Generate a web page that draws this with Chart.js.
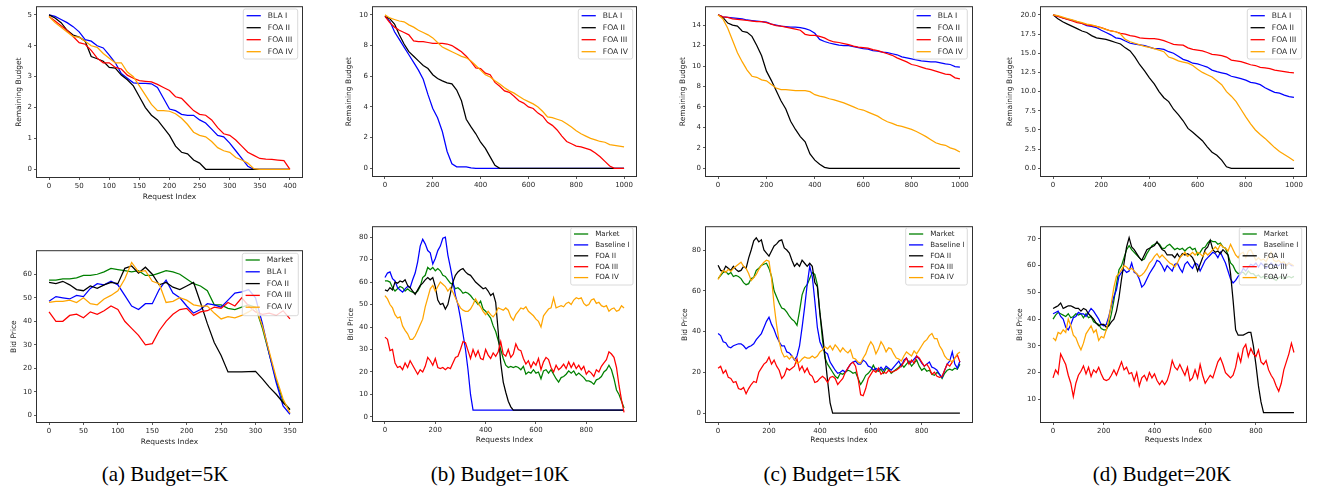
<!DOCTYPE html>
<html>
<head>
<meta charset="utf-8">
<script src="https://cdn.jsdelivr.net/npm/chart.js@4.4.1/dist/chart.umd.min.js"></script>
<style>
  body { margin: 0; background: #fff; width: 1330px; height: 491px; position: relative; overflow: hidden; }
  canvas { position: absolute; }
  .cap { position: absolute; top: 464px; font-size: 21px; line-height: 21px; font-family: "Liberation Serif", "Times New Roman", serif; color: #000; white-space: nowrap; transform: translateX(-50%); }
</style>
</head>
<body>
<div class="cap" style="left:165px">(a) Budget=5K</div>
<div class="cap" style="left:500px">(b) Budget=10K</div>
<div class="cap" style="left:832px">(c) Budget=15K</div>
<div class="cap" style="left:1162px">(d) Budget=20K</div>
<script>
// series names
const remNames = ['BLA I', 'FOA II', 'FOA III', 'FOA IV'];
const bidNamesA = ['Market', 'BLA I', 'FOA II', 'FOA III', 'FOA IV'];
const bidNames = ['Market', 'Baseline I', 'FOA II', 'FOA III', 'FOA IV'];

// tick labels
const ticksRemAX = [0, 50, 100, 150, 200, 250, 300, 350, 400];
const ticksRemAY = [0, 1, 2, 3, 4, 5];
const ticksRemX = [0, 200, 400, 600, 800, 1000];
const ticksRemBY = [0, 2, 4, 6, 8, 10];
const ticksRemCY = [0, 2, 4, 6, 8, 10, 12, 14];
const ticksRemDY = [0, 2.5, 5, 7.5, 10, 12.5, 15, 17.5, 20];
const ticksBidAX = [0, 50, 100, 150, 200, 250, 300, 350];
const ticksBidAY = [0, 10, 20, 30, 40, 50, 60];
const ticksBidX = [0, 200, 400, 600, 800];
const ticksBidBY = [0, 10, 20, 30, 40, 50, 60, 70, 80];
const ticksBidCY = [0, 20, 40, 60, 80];
const ticksBidDY = [10, 20, 30, 40, 50, 60, 70];

// remaining budget, 5K (every 10 requests)
const remA_bla = [5.0,4.95,4.85,4.75,4.62,4.45,4.2,4.15,4.0,3.93, 3.7,3.45,3.1,2.95,2.8,2.78,2.78,2.77,2.65,2.3, 1.95,1.9,1.78,1.75,1.75,1.6,1.5,1.3,1.1,1.05, 0.85,0.6,0.35,0.1,0,0,0,0,0,0,0];
const remA_foa2 = [5.0,4.9,4.75,4.5,4.35,4.28,4.15,3.65,3.58,3.5, 3.3,3.28,3.05,2.9,2.7,2.35,2.0,1.75,1.6,1.35, 1.1,0.75,0.55,0.5,0.3,0.2, 0,0,0,0,0,0,0,0,0,0,0,0,0,0,0];
const remA_foa3 = [4.95,4.8,4.65,4.5,4.3,4.1,4.05,3.85,3.6,3.45, 3.45,3.3,3.25,3.05,2.95,2.87,2.85,2.83,2.75,2.65, 2.55,2.35,2.3,2.1,1.9,1.78,1.75,1.6,1.35,1.15, 1.1,0.95,0.75,0.55,0.45,0.35,0.33,0.32,0.3,0.28,0];
const remA_foa4 = [4.95,4.75,4.6,4.45,4.3,4.28,4.15,4.0,3.95,3.75, 3.6,3.45,3.45,3.15,3.0,2.7,2.4,2.1,1.9,1.9, 1.88,1.8,1.65,1.45,1.2,1.1,1.05,0.9,0.7,0.6, 0.55,0.38,0.3,0.2,0.02,0,0,0,0,0,0];

// remaining budget, 10K (every 20 requests)
const remB_bla = [9.9,9.6,8.9,8.4,7.9,7.4,6.9,6.4,5.8,4.8, 3.9,3.3,2.4,1.1,0.3,0.1,0.1,0.1,0.03, 0,0,0,0,0,0,0,0,0,0,0,0,0,0,0,0,0,0,0,0,0,0,0,0,0,0,0,0,0,0,0,0];
const remB_foa2 = [9.9,9.75,9.4,8.7,8.1,7.6,7.3,7.0,6.7,6.5, 6.1,5.85,5.7,5.57,5.5,5.1,4.4,3.2,2.7,2.25, 1.7,1.3,0.75,0.2, 0,0,0,0,0,0,0,0,0,0,0,0,0,0,0,0,0,0,0,0,0,0,0,0,0,0,0];
const remB_foa3 = [9.9,9.5,9.2,9.0,8.85,8.7,8.3,8.25,8.25,8.2, 8.15,8.15,8.15,8.1,8.0,7.8,7.6,7.3,6.95,6.55, 6.5,6.2,6.1,5.6,5.35,5.05,4.95,4.7,4.4,4.25, 4.0,3.9,3.6,3.4,3.0,2.8,2.5,2.1,1.75,1.6, 1.45,1.4,1.3,1.2,1.0,0.75,0.45,0.15,0,0,0];
const remB_foa4 = [10.0,9.8,9.7,9.6,9.55,9.35,9.2,9.0,8.85,8.7, 8.5,8.2,7.9,7.75,7.6,7.45,7.3,7.2,7.0,6.7, 6.4,6.1,5.95,5.7,5.5,5.25,5.05,4.9,4.7,4.5, 4.35,4.2,4.0,3.7,3.35,3.3,3.2,3.1,2.9,2.7, 2.45,2.25,2.1,1.95,1.85,1.75,1.7,1.55,1.5,1.45,1.4];

// remaining budget, 15K (every 20 requests)
const remC_bla = [15,14.8,14.75,14.7,14.65,14.6,14.5,14.45,14.4,14.35, 14.3,14.1,14.0,13.9,13.85,13.8,13.8,13.75,13.65,13.5, 13.2,12.6,12.4,12.25,12.15,12.05,12.0,12.0,11.9,11.8, 11.7,11.65,11.5,11.45,11.35,11.3,11.2,11.1,10.9,10.8, 10.7,10.6,10.5,10.45,10.4,10.4,10.3,10.2,10.15,9.95,9.9];
const remC_foa2 = [15,14.75,14.2,14.0,13.9,13.4,13.3,12.9,12.0,11.0, 9.5,8.6,7.6,6.6,5.8,4.6,3.8,3.1,2.6,1.4, 0.8,0.4,0.1, 0,0,0,0,0,0,0,0,0,0,0,0,0,0,0,0,0,0,0,0,0,0,0,0,0,0,0,0];
const remC_foa3 = [15,14.8,14.75,14.6,14.55,14.5,14.45,14.4,14.35,14.35, 14.25,14.1,13.95,13.9,13.8,13.7,13.6,13.5,13.1,13.0, 13.0,12.9,12.75,12.5,12.35,12.3,12.2,12.1,11.95,11.85, 11.8,11.75,11.6,11.5,11.35,11.2,11.05,10.8,10.6,10.4, 10.15,10.05,9.9,9.75,9.65,9.5,9.35,9.2,9.15,8.85,8.75];
const remC_foa4 = [15,14.6,13.7,12.5,11.3,10.4,9.6,9.0,8.9,8.65, 8.55,8.2,7.85,7.7,7.7,7.65,7.6,7.6,7.6,7.5, 7.2,7.05,6.95,6.8,6.7,6.55,6.4,6.2,6.0,5.8, 5.7,5.5,5.3,5.1,4.8,4.55,4.4,4.2,4.1,3.95, 3.8,3.6,3.35,3.1,2.8,2.5,2.35,2.25,2.0,1.85,1.6];

// remaining budget, 20K (every 20 requests)
const remD_bla = [20,19.85,19.6,19.45,19.3,19.1,18.9,18.6,18.5,18.35, 18.0,17.7,17.4,17.0,16.9,16.6,16.3,16.2,16.1,16.0, 15.8,15.6,15.6,15.5,15.2,15.0,14.6,14.2,14.0,13.7, 13.6,13.4,13.2,12.8,12.6,12.45,12.3,12.0,11.85,11.7, 11.5,11.2,11.1,10.9,10.5,10.2,9.9,9.8,9.55,9.35,9.25];
const remD_foa2 = [20,19.5,19.1,18.8,18.5,18.2,17.9,17.7,17.3,17.0, 16.9,16.8,16.6,16.4,16.2,15.7,15.3,14.5,13.5,12.7, 11.8,11.0,10.0,9.2,8.7,7.7,7.0,6.2,5.2,4.7, 4.15,3.6,2.8,2.1,1.7,1.07,0.2, 0,0,0,0,0,0,0,0,0,0,0,0,0,0];
const remD_foa3 = [20,19.8,19.6,19.4,19.2,19.0,18.9,18.7,18.6,18.5, 18.35,18.1,17.9,17.8,17.6,17.5,17.3,17.2,17.0,16.95, 16.9,16.9,16.8,16.65,16.4,16.15,16.1,16.05,15.7,15.5, 15.4,15.3,15.1,14.85,14.8,14.7,14.5,14.1,14.0,13.9, 13.7,13.5,13.4,13.15,13.1,13.0,12.8,12.7,12.6,12.5,12.45];
const remD_foa4 = [20,19.9,19.7,19.5,19.35,19.15,19.0,18.8,18.7,18.5, 18.3,18.1,17.9,17.8,17.5,16.8,16.5,16.3,16.1,15.9, 15.75,15.6,15.4,15.2,14.5,14.3,14.0,13.85,13.7,13.4, 12.9,12.5,12.2,11.9,11.4,10.9,10.0,9.4,8.7,7.7, 6.7,5.8,5.0,4.4,3.9,3.3,2.7,2.2,1.8,1.4,1.0];

// bid price, 5K (every 10 requests)
const bidA_market = [57.5,57.5,58,58,58.5,59.5,59.5,60,61,62.5, 62,61.5,61,61.5,59.5,59.5,60.5,61.5,61,60, 58,56,55,53,47,47,45.5,45,46,47, 46,37,26,15,6,2.5];
const bidA_bla = [48.5,50.5,50,49.5,51,50.5,54,56,55.5,57, 55.5,51,46.5,45,47.5,47.5,53.5,57.5,52,50, 46.5,43.5,45,47.5,47,46,49,52,52.5,53.5, 50,39,26,14,4,0.5];
const bidA_foa2 = [56.5,56,57,55.5,53.5,53,55,54,55.5,56.5, 56,62.5,63.5,60.5,63,60,55.5,56.5,54.5,53.5, 55,56.5,48,39,31,25.5,18.5,18.5,18.5,18.6, 18.7,15.5,12,9,5.5,2.5];
const bidA_foa3 = [44,40,40,42.5,43,41.5,44,43,44.5,46.5, 45,40,37,34,30,30.5,36,40,43,45, 45.5,42.5,44,44.5,46,45.5,48,46.5,50,46.5, 44,43,43.5,42.5,44.5,41];
const bidA_foa4 = [48,48.5,48.5,49,48,50,47.5,47,49.5,51, 53,58,65,61,61.5,57,56,48,48.5,50, 49,47,46.5,46.5,43.5,41,42,41.5,42.5,44, 46,38,27,16,7,1];

// bid price, 10K (every 10 requests)
const bidB_market = [60.5,60.5,60,57.5,56,57,58,57.5,56,57, 56,55.5,55,56,58,62,63,66.5,65.5,66.5, 65,66,65,63,62.5,61,59.5,59,57,57.5,
  56.5,55,55.5,55,54,52.5,51.5,50,51.5,48, 47,45.5,44,40.5,38,34,30,26,23,22, 22.5,22,22.5,22,21,22.5,19,20,19.5,21,
  19.5,20,17,20.5,21,19.5,21,19,17,15.5, 17.5,18,19,20.5,19.5,20.5,18.5,19.5,18.5,17.5, 16,16,15.5,14.5,16.5,17,18,20,21,23,
  21,17,12,10,7,4];
const bidB_base = [62,64,64.5,61.5,60.5,57.5,56.5,55.5,57,58, 57.5,61,64,69,76,79,77,74,73,68, 70.5,74,76,79.5,80,72,66.5,60.5,54,50,
  44,37,30,21,10, 3,3,3,3,3,3,3,3,3,3, 3,3,3,3,3,3,3,3,3,3, 3,3,3,3,3,3,3,3,3,3,
  3,3,3,3,3,3,3,3,3,3, 3,3,3,3,3,3,3,3,3,3, 3,3,3,3,3,3,3,3,3,3, 3];
const bidB_foa2 = [56.5,56,57.5,56.5,60,59.5,60.5,60,61,58.5, 57.5,56,54.5,56.5,58.5,59.5,61,62,61,62, 58,52,50,50.5,48,50,55,60,63,64.5,
  65.5,66,64.5,63.5,63,61.5,60,59,58,57, 57.5,56,54,55,51,38,24,15.5,11,7, 4.5,3,3,3,3,3,3,3,3,3,
  3,3,3,3,3,3,3,3,3,3, 3,3,3,3,3,3,3,3,3,3, 3,3,3,3,3,3,3,3,3,3, 3,3,3,3,3,3];
const bidB_foa3 = [35.5,34.5,29.5,30,24,22,22.5,21,24,22, 25,23,21,19,21,20,22.5,26.5,25,23, 26,22,21.5,22,21,22,21.5,24,26.5,27,
  30,33.5,33,29.5,26,30,27,29.5,26,25.5, 30,27.5,26,28.5,27,29,33.5,28,27,30, 26.5,28,32.5,30,29.5,26,23.5,25,22,24.5,
  23,26,21,24.5,26.5,25.5,22,20,23,21, 22,23.5,21.5,24.5,22,24,21.5,23,21,22.5, 19,20.5,19.5,18,21,20,22.5,24,25.5,29,
  28,26.5,22,14,7.5,2];
const bidB_foa4 = [54,52.5,50,48.5,45.5,44,44.5,40.5,38.5,37, 34.5,34.5,36,38.5,41,43.5,49,53,57,58.5, 56,58,60,59,58,56,57.5,55.5,53,50.5,
  48.5,47.5,47,47,48,50,52.5,50.5,49,47, 45.5,47,45.5,44.5,46,48.5,48,47.5,48.5,47.5, 44.5,43,45.5,47,48.5,48,49,47,46,45,
  43.5,42.5,40,45,46.5,48,48.5,53,48.5,49, 49.5,49,50.5,51,50,52,53,52.5,53,50.5, 49.5,50,52,52.5,50.5,51,49.5,49,49.5,47,
  48,48.5,47,47.5,49.5,48.5];

// bid price, 15K (every 10 requests)
const bidC_market = [66,67.5,69,69.5,68,69,67,67.5,67,66, 64,63,63.5,66,66.5,70,71,72.5,73,73.5, 71,67,60,57,54,51.5,51,49.5,47.5,46,
  45,43,50,58,61.5,63,66,69,68,63, 49,36,27,24,22,20,18,17,19.5,19, 20,21,20.5,19.5,20,17,14,16,18.5,19.5,
  21,23.5,21,20.5,21.5,19.5,22,21.5,19.5,20.5, 21.5,22.5,24,22.5,24,25.5,23,24.5,26,23, 21,22,20.5,21,19,18.5,20,19,17,19.5,
  21,21.5,21,22,21.5,24];
const bidC_base = [39,38,35,34.5,32.5,32,33,33.5,34,34, 33,31.5,32.5,33,34,36,37.5,39,42,45, 47,43.5,41,37.5,35,33,33,30,29.5,28,
  26,28,33,42,52,63,72,67,55,42, 35,32,30,29,25,23,21,19.5,20,21, 20,22,24,25,25.5,24,24,26,25,23,
  22.5,21,22,21,22.5,21,23,22,21,22.5, 24,25.5,23,26,27,24.5,25,26.5,28,26.5, 24.5,23,24,25,22.5,22,21,19,17.5,21,
  24,25.5,30,24,22,25.5];
const bidC_foa2 = [72.5,70,69.5,72,71,70,72,70.5,69.5,70, 72,71,76,80,84.5,86,84,85,80,78.5, 77,79.5,82,83,84.5,85,81,80,78.5,75,
  72,73.5,72,75,73.5,72,73.5,72,64,62, 49,39,28,16,5, 0,0,0,0,0, 0,0,0,0,0,0,0,0,0,0,
  0,0,0,0,0,0,0,0,0,0, 0,0,0,0,0,0,0,0,0,0, 0,0,0,0,0,0,0,0,0,0, 0,0,0,0,0,0];
const bidC_foa3 = [22,23,19.5,21,17.5,17,15,15.5,12,11.5, 12.5,9.5,12,14,15.5,15,20,22,24,25, 27.5,24,26,23,21,17,18.5,22,21,22,
  23,26.5,21,23,20,22,19,18,15,15.5, 17,18,17,15,17.5,18,17,14,15.5,17, 20,22,24,25,23,17,9,8.5,12,17,
  19,21,20,22,19,20,19.5,21,20,20.5, 21,22,23,25,27,24,26,24.5,28,27, 25,23,24,22,19,20,18,17.5,18,21,
  24,23,25,27,28.5,25];
const bidC_foa4 = [65.5,68,70,69,70.5,69.5,71,72,73,74, 72,71,68.5,65,66.5,68,70.5,72.5,74,75, 74.5,66,53,43,35,30,27.5,28,26.5,28,
  26.5,24.5,25,26.5,27.5,27,27,28,27,28, 30,31,32.5,31.5,33,31,33.5,32,30,32, 30.5,29.5,31,27,26.5,25,24.5,27,29,32.5,
  35,33,29,31.5,35,33,30,32,31.5,29, 27,26.5,25.5,28,30,29,28,30.5,29,31, 33,35,36,38,39,36.5,36.5,33,31,28,
  26.5,26,25,27,29,30];

// bid price, 20K (every 10 requests)
const bidD_market = [40,41.5,42.5,42,41.5,41,42,40.5,41,42, 41.5,42,40.5,42,40.5,41,39,38.5,38,36.5, 36,36,38,42,47,53,58.5,60,63,66,
  67.5,66,65,64,63,62,62.5,64.5,66,67.5, 68,68.5,68,66.5,66.5,67.5,68,67,66,66.5, 66,66.5,65.5,66.5,67,66,66.5,64,65,66.5,
  67,68.5,69.5,69,69,68,68.5,67,66.5,64, 61,60,58,57,57.5,57.5,56.5,58,57,57, 56,56.5,55.5,56,55,55.5,56,55,54.5,55.5,
  56,55,55.5,56,55.5,56];
const bidD_base = [42,42.5,43,41,40,37,36,38,40.5,41, 42.5,42,42,41,42.5,44,43,41.5,40,38, 37.5,38,41,45,48.5,51,56,57.5,58.5,57.5,
  58,61,57.5,57,55,52,53,55,57,58.5, 60,62,61.5,60,58,60,59,58,60.5,61, 59,57.5,60.5,61.5,60,59,61,60.5,58,60,
  62,63,64,65,64.5,63,65,63,61,58, 55,53.5,54.5,56,57,59,58,59.5,60.5,60, 61,59.5,61,60,59,60,61,60,60.5,60,
  61,60.5,60,61,60,60];
const bidD_foa2 = [44,44.5,45,46,44,44.5,45,45,44.5,44, 44,43,44,43.5,42,41,40,38.5,37.5,38, 38,37,37.5,39,40,43,48,55,61,67,
  70.5,67,66,64.5,63,62,64,66,66.5,67, 67.5,69,67.5,66,65.5,64,64,64,63,64.5, 63,64.5,64,64.5,64,63,61,58,60.5,63,
  66,67,69.5,66,65,65.5,64.5,66,65,64, 57,47,36,34,34,34,34.5,35,35,30, 23,15,9,5,5,5,5,5,5,5,
  5,5,5,5,5,5];
const bidD_foa3 = [18,21,19.5,27,25,23,19,16,11,16, 19,20.5,22.5,19.5,22,18.5,21,20,22,19.5, 17.5,17,17.5,19,21,19,21.5,24,21,22,
  19.5,20,17,20,15,18,19,17,20,18, 19.5,17,15.5,17,15.5,17,20,24.5,22,21, 23,21,19,22,17,18,21,18,23,19,
  16,17.5,19,18,21,24,25.5,23,20,19, 18,19,22,27,24,29,30.5,26,29,27, 26,28.5,24,23,24.5,21,19,17.5,15,13,
  16,21,24,27,31,27.5];
const bidD_foa4 = [33,32,35,34.5,36,35,40,37.5,34,33, 30.5,28.5,31,34.5,36,37.5,35,36,32,33.5, 33,36,40,46,52,56,57,58.5,60,59.5,
  58.5,59,58,57,56,56.5,57.5,59,61,62, 63.5,64.5,63,64,63,62,61,60.5,59.5,61, 63,64,65,63.5,64,65,64,65,64.5,63.5,
  65,64,65,66,67,66,68,67,66.5,65.5, 68,66,64,63,64.5,65,63,65.5,66,64, 62,63,62,62.5,61.5,63.5,65,62,61.5,62,
  61,61.5,60,61,60.5,60];

const remColors = ['#0000ff', '#000000', '#ff0000', '#ffa500'];
const bidColors = ['#008000', '#0000ff', '#000000', '#ff0000', '#ffa500'];

// layout of each panel: plot box [left, top, right, bottom] and legend box [x, y, w, h, firstRow, rowGap, fontSize]
const panels = [
  { area: [37, 5, 302, 177], x: [-20, 420], y: [-0.25, 5.25], xTicks: ticksRemAX, yTicks: ticksRemAY, step: 10,
    yLab: 'Remaining Budget', yLabX: 19, xLab: 'Request Index', xLabY: 197,
    legend: [243.3, 9, 54.4, 50, 6.7, 12, 7.6], names: remNames, colors: remColors,
    series: [remA_bla, remA_foa2, remA_foa3, remA_foa4] },
  { area: [373, 5, 636, 176], x: [-50, 1050], y: [-0.5, 10.5], xTicks: ticksRemX, yTicks: ticksRemBY, step: 20,
    yLab: 'Remaining Budget', yLabX: 349,
    legend: [578.3, 9, 54.4, 50, 6.7, 12, 7.6], names: remNames, colors: remColors,
    series: [remB_bla, remB_foa2, remB_foa3, remB_foa4] },
  { area: [706, 5, 972, 176], x: [-50, 1050], y: [-0.75, 15.75], xTicks: ticksRemX, yTicks: ticksRemCY, step: 20,
    yLab: 'Remaining Budget', yLabX: 683,
    legend: [913.3, 9, 54, 50, 6.7, 12, 7.6], names: remNames, colors: remColors,
    series: [remC_bla, remC_foa2, remC_foa3, remC_foa4] },
  { area: [1041, 5, 1306, 176], x: [-50, 1050], y: [-1, 21], xTicks: ticksRemX, yTicks: ticksRemDY, step: 20, yDec: 1,
    yLab: 'Remaining Budget', yLabX: 1010,
    legend: [1247.3, 9, 54.4, 50, 6.7, 12, 7.6], names: remNames, colors: remColors,
    series: [remD_bla, remD_foa2, remD_foa3, remD_foa4] },
  { area: [37, 249, 302, 422], x: [-17.5, 367.5], y: [-2.8, 69.8], xTicks: ticksBidAX, yTicks: ticksBidAY, step: 10,
    yLab: 'Bid Price', yLabX: 14, xLab: 'Requests Index', xLabY: 442,
    legend: [242.3, 253.3, 56, 62.4, 6.7, 11.8, 7.6], names: bidNamesA, colors: bidColors,
    series: [bidA_market, bidA_bla, bidA_foa2, bidA_foa3, bidA_foa4] },
  { area: [373, 225, 636, 421], x: [-47.5, 997.5], y: [-1.8, 84.4], xTicks: ticksBidX, yTicks: ticksBidBY, step: 10,
    yLab: 'Bid Price', yLabX: 351, xLab: 'Requests Index', xLabY: 440,
    legend: [570.7, 227.7, 62.3, 57.3, 6.3, 10.9, 7.1], names: bidNames, colors: bidColors,
    series: [bidB_market, bidB_base, bidB_foa2, bidB_foa3, bidB_foa4] },
  { area: [706, 225, 972, 422], x: [-47.5, 997.5], y: [-4.4, 91.2], xTicks: ticksBidX, yTicks: ticksBidCY, step: 10,
    yLab: 'Bid Price', yLabX: 685, xLab: 'Requests Index', xLabY: 440,
    legend: [905.7, 227.7, 61.6, 57.3, 6.3, 10.9, 7.1], names: bidNames, colors: bidColors,
    series: [bidC_market, bidC_base, bidC_foa2, bidC_foa3, bidC_foa4] },
  { area: [1041, 225, 1306, 422], x: [-47.5, 997.5], y: [1.5, 74.4], xTicks: ticksBidX, yTicks: ticksBidDY, step: 10,
    yLab: 'Bid Price', yLabX: 1020, xLab: 'Requests Index', xLabY: 440,
    legend: [1239.3, 227.7, 62.4, 57.3, 6.3, 10.9, 7.1], names: bidNames, colors: bidColors,
    series: [bidD_market, bidD_base, bidD_foa2, bidD_foa3, bidD_foa4] }
];

Chart.defaults.font.family = '"DejaVu Sans", sans-serif';
Chart.defaults.color = '#262626';

// axes frame drawn like matplotlib spines
const framePlugin = {
  id: 'frame',
  afterDatasetsDraw(chart) {
    const { ctx, chartArea: a } = chart;
    ctx.save();
    ctx.strokeStyle = '#303030';
    ctx.lineWidth = 1;
    ctx.strokeRect(a.left - 0.5, a.top - 0.5, a.right - a.left + 1, a.bottom - a.top + 1);
    ctx.restore();
  }
};

// legend box inside the axes
const legendPlugin = {
  id: 'boxLegend',
  afterDraw(chart, args, opts) {
    const [bx, by, bw, bh, first, gap, fs] = opts.box;
    const ctx = chart.ctx;
    const x = bx - opts.offX, y = by - opts.offY, r = 2;
    ctx.save();
    ctx.beginPath();
    ctx.moveTo(x + r, y);
    ctx.arcTo(x + bw, y, x + bw, y + bh, r);
    ctx.arcTo(x + bw, y + bh, x, y + bh, r);
    ctx.arcTo(x, y + bh, x, y, r);
    ctx.arcTo(x, y, x + bw, y, r);
    ctx.closePath();
    ctx.fillStyle = 'rgba(255,255,255,0.8)';
    ctx.fill();
    ctx.strokeStyle = '#d0d0d0';
    ctx.lineWidth = 0.8;
    ctx.stroke();
    ctx.font = fs + 'px "DejaVu Sans"';
    ctx.textBaseline = 'middle';
    chart.data.datasets.forEach((ds, i) => {
      const cy = y + first + i * gap;
      ctx.strokeStyle = ds.borderColor;
      ctx.lineWidth = 1.3;
      ctx.beginPath();
      ctx.moveTo(x + 3.3, cy);
      ctx.lineTo(x + 17.5, cy);
      ctx.stroke();
      ctx.fillStyle = '#262626';
      ctx.fillText(ds.label, x + 24.5, cy);
    });
    ctx.restore();
  }
};

function makeChart(p) {
  const [L, T, R, B] = p.area;
  const cLeft = p.yLabX - 8, cTop = T - 4, cRight = R + 10, cBottom = B + 30;
  const cv = document.createElement('canvas');
  cv.width = cRight - cLeft;
  cv.height = cBottom - cTop;
  cv.style.left = cLeft + 'px';
  cv.style.top = cTop + 'px';
  document.body.appendChild(cv);
  const yW = L - cLeft, xH = 30;
  const n = p.series.length;

  new Chart(cv, {
    type: 'line',
    data: {
      datasets: p.series.map((vals, i) => ({
        label: p.names[i],
        data: vals.map((v, k) => ({ x: k * p.step, y: v })),
        borderColor: p.colors[i],
        borderWidth: 1.25,
        pointRadius: 0,
        fill: false,
        tension: 0,
        order: n - i
      }))
    },
    options: {
      responsive: false,
      animation: false,
      events: [],
      layout: { padding: { top: 4, right: 10, left: 0, bottom: 0 } },
      plugins: {
        legend: { display: false },
        tooltip: { enabled: false },
        boxLegend: { box: p.legend, offX: cLeft, offY: cTop }
      },
      scales: {
        x: {
          type: 'linear', min: p.x[0], max: p.x[1],
          afterBuildTicks: s => { s.ticks = p.xTicks.map(v => ({ value: v })); },
          afterFit: s => { s.height = xH; },
          ticks: { autoSkip: false, maxRotation: 0, padding: 2, font: { size: 7 }, color: '#262626',
                   callback: v => String(v) },
          grid: { drawOnChartArea: false, drawTicks: true, tickLength: 3, color: '#303030', lineWidth: 0.8 },
          border: { display: false },
          title: { display: !!p.xLab, text: p.xLab || '', font: { size: 7.5 }, color: '#262626',
                   padding: { top: 0, bottom: cBottom - p.xLabY - 4.5 } }
        },
        y: {
          type: 'linear', min: p.y[0], max: p.y[1],
          afterBuildTicks: s => { s.ticks = p.yTicks.map(v => ({ value: v })); },
          afterFit: s => { s.width = yW; },
          ticks: { autoSkip: false, padding: 2, font: { size: 7 }, color: '#262626',
                   callback: v => p.yDec ? v.toFixed(p.yDec) : String(v) },
          grid: { drawOnChartArea: false, drawTicks: true, tickLength: 3, color: '#303030', lineWidth: 0.8 },
          border: { display: false },
          title: { display: true, text: p.yLab, font: { size: 7.5 }, color: '#262626',
                   padding: { top: 3.5, bottom: 0 } }
        }
      }
    },
    plugins: [framePlugin, legendPlugin]
  });
}

document.addEventListener('DOMContentLoaded', () => {
  panels.forEach(makeChart);
});
</script>
</body>
</html>
